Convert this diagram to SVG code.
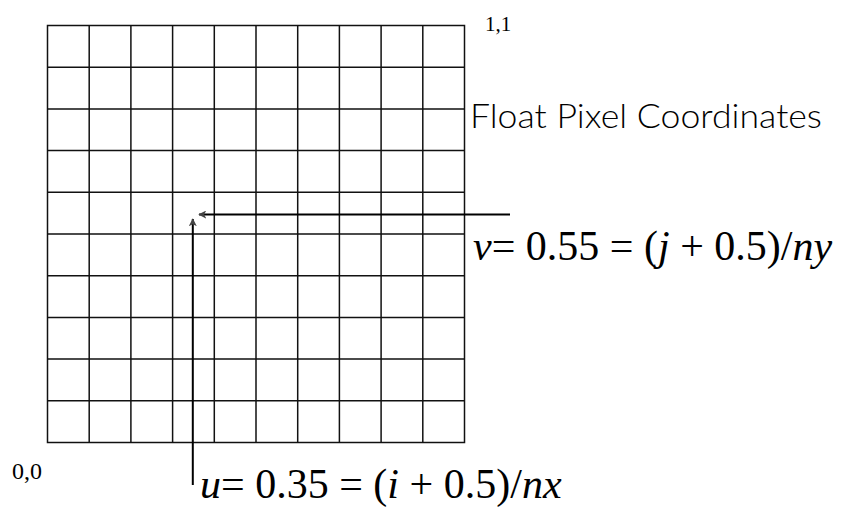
<svg xmlns="http://www.w3.org/2000/svg" width="865" height="515" viewBox="0 0 865 515">
<defs>
<style>
.grid{stroke:#111;stroke-width:1.5;fill:none}
.arr{stroke:#000;stroke-width:2;fill:none}
.serif{font-family:"Liberation Serif","Times New Roman",serif;fill:#000}
.sans{font-family:"Lato","Open Sans",sans-serif;font-weight:300;fill:#000}
.it{font-style:italic}
</style>
<marker id="ah" viewBox="0 0 10 10" refX="9" refY="5" markerWidth="8" markerHeight="8" markerUnits="userSpaceOnUse" orient="auto">
<path d="M0,0 L10,5 L0,10 L2.5,5 Z" fill="#444"/>
</marker>
</defs>
<rect width="865" height="515" fill="#fff"/>
<g id="grid" class="grid">
<rect x="47.5" y="25.5" width="417" height="417"/>
<path d="M89.2,25.5V442.5M130.9,25.5V442.5M172.6,25.5V442.5M214.3,25.5V442.5M256,25.5V442.5M297.7,25.5V442.5M339.4,25.5V442.5M381.1,25.5V442.5M422.8,25.5V442.5"/>
<path d="M47.5,67.2H464.5M47.5,108.9H464.5M47.5,150.6H464.5M47.5,192.3H464.5M47.5,234H464.5M47.5,275.7H464.5M47.5,317.4H464.5M47.5,359.1H464.5M47.5,400.8H464.5"/>
</g>
<g id="connectors">
<line class="arr" x1="510" y1="214.5" x2="199" y2="214.5" marker-end="url(#ah)"/>
<line class="arr" x1="192.8" y1="485" x2="192.8" y2="219" marker-end="url(#ah)"/>
</g>
<g id="label-11"><text class="serif" x="485" y="31" font-size="21">1,1</text></g>
<g id="label-00"><text class="serif" x="12" y="479" font-size="24">0,0</text></g>
<g id="label-float"><text class="sans" x="470" y="128" font-size="33" textLength="352" lengthAdjust="spacingAndGlyphs">Float Pixel Coordinates</text></g>
<g id="eq-v"><text class="serif" x="473" y="260" font-size="42"><tspan class="it">v</tspan>= 0.55 = (<tspan class="it">j</tspan> + 0.5)/<tspan class="it">ny</tspan></text></g>
<g id="eq-u"><text class="serif" x="200" y="498" font-size="42"><tspan class="it">u</tspan>= 0.35 = (<tspan class="it">i</tspan> + 0.5)/<tspan class="it">nx</tspan></text></g>
</svg>
